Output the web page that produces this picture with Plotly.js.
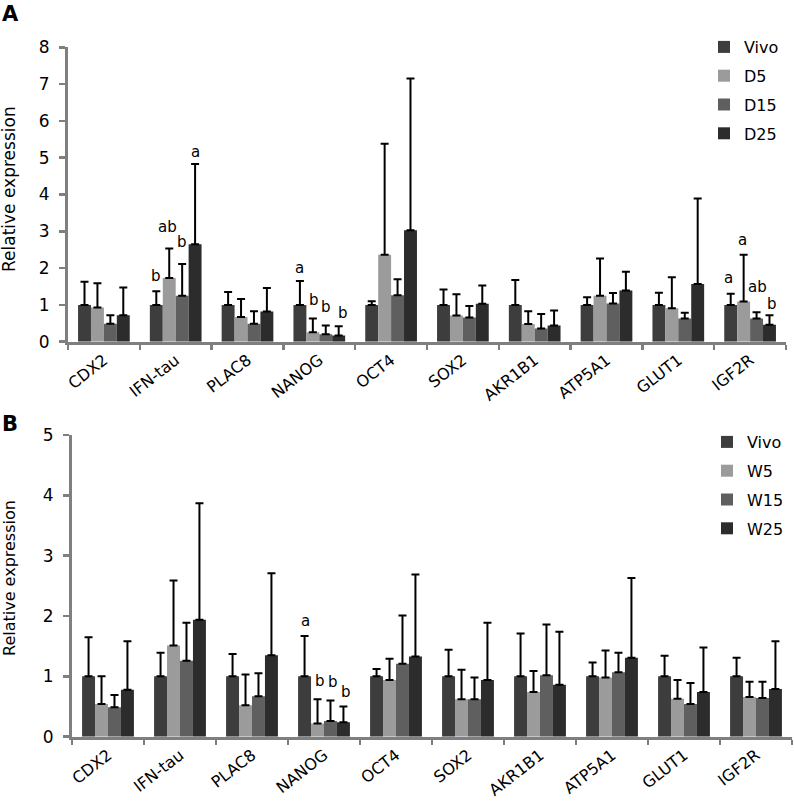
<!DOCTYPE html>
<html><head><meta charset="utf-8">
<script src="https://cdn.plot.ly/plotly-3.0.1.min.js"></script>
<style>html,body{margin:0;padding:0;background:#fff}</style>
</head><body><div id="chart" style="width:794px;height:809px"></div>
<script>
// ---- categories / series ----
const genes = ['CDX2','IFN-tau','PLAC8','NANOG','OCT4','SOX2','AKR1B1','ATP5A1','GLUT1','IGF2R'];
const seriesA = ['Vivo','D5','D15','D25'];
const seriesB = ['Vivo','W5','W15','W25'];
const yTicksA = [0,1,2,3,4,5,6,7,8];
const yTicksB = [0,1,2,3,4,5];
const yTitle = 'Relative expression';

// ---- Panel A: means ----
const vivoA = [1.00,1.00,1.00,1.00,1.00,1.00,1.00,1.00,1.00,1.00];
const d5A   = [0.93,1.73,0.67,0.26,2.36,0.71,0.48,1.25,0.91,1.09];
const d15A  = [0.49,1.25,0.49,0.20,1.26,0.66,0.36,1.04,0.63,0.63];
const d25A  = [0.72,2.65,0.82,0.17,3.03,1.03,0.44,1.39,1.57,0.46];
// ---- Panel A: upper error ----
const vivoErrA = [0.63,0.37,0.35,0.65,0.10,0.42,0.68,0.21,0.33,0.30];
const d5ErrA   = [0.66,0.80,0.49,0.37,3.02,0.58,0.35,1.01,0.84,1.27];
const d15ErrA  = [0.23,0.86,0.34,0.24,0.44,0.31,0.39,0.28,0.16,0.17];
const d25ErrA  = [0.75,2.18,0.64,0.25,4.12,0.50,0.41,0.51,2.32,0.26];

// ---- Panel B: means ----
const vivoB = [1.00,1.00,1.00,1.00,1.00,1.00,1.00,1.00,1.00,1.00];
const w5B   = [0.54,1.51,0.52,0.22,0.94,0.62,0.74,0.98,0.63,0.66];
const w15B  = [0.49,1.26,0.67,0.26,1.21,0.62,1.02,1.07,0.54,0.64];
const w25B  = [0.78,1.94,1.35,0.24,1.33,0.94,0.86,1.31,0.74,0.79];
// ---- Panel B: upper error ----
const vivoErrB = [0.65,0.39,0.37,0.67,0.12,0.44,0.71,0.23,0.34,0.31];
const w5ErrB   = [0.46,1.08,0.51,0.40,0.35,0.49,0.35,0.45,0.31,0.25];
const w15ErrB  = [0.20,0.63,0.38,0.34,0.80,0.36,0.84,0.32,0.35,0.27];
const w25ErrB  = [0.80,1.93,1.36,0.26,1.36,0.95,0.88,1.32,0.74,0.79];

// ---- significance letters ----
const lettersA_IFNtau = ['b','ab','b','a'];
const lettersA_NANOG  = ['a','b','b','b'];
const lettersA_IGF2R  = ['a','a','ab','b'];
const lettersB_NANOG  = ['a','b','b','b'];

// ---- styling ----
const FONT = 'DejaVu Sans, Arial, sans-serif';
const colors = ['#3d3d3d','#9b9b9b','#5f5f5f','#2c2c2c'];
const axisGray = '#7f7f7f';
const W = 794, H = 809;

const meansA = [vivoA, d5A, d15A, d25A];
const errsA = [vivoErrA, d5ErrA, d15ErrA, d25ErrA];
const meansB = [vivoB, w5B, w15B, w25B];
const errsB = [vivoErrB, w5ErrB, w15ErrB, w25ErrB];

const traces = [];
function addPanel(names, means, errs, xa, ya, legendId) {
  names.forEach((nm, i) => {
    traces.push({
      type: 'bar', name: nm, x: genes, y: means[i],
      xaxis: xa, yaxis: ya, legend: legendId, legendgroup: legendId + nm,
      marker: {color: colors[i], line: {width: 0}},
      error_y: {type: 'data', symmetric: false, array: errs[i],
                arrayminus: means[i].map(() => 0),
                color: '#000', thickness: 2, width: 4}
    });
  });
}
addPanel(seriesA, meansA, errsA, 'x', 'y', 'legend');
addPanel(seriesB, meansB, errsB, 'x2', 'y2', 'legend2');

const barW = 0.18;
const annotations = [];
function addLetters(letters, gene, means, errs, xref, yref, shifts, xshifts) {
  const gi = genes.indexOf(gene);
  letters.forEach((t, si) => {
    annotations.push({
      text: t, x: gi + (si - 1.5) * barW, y: means[si][gi] + errs[si][gi],
      xref: xref, yref: yref, showarrow: false, yanchor: 'middle', xanchor: 'center',
      yshift: shifts[si], xshift: xshifts ? xshifts[si] : 0,
      font: {family: FONT, size: 15, color: '#000'}
    });
  });
}
addLetters(lettersA_IFNtau, 'IFN-tau', meansA, errsA, 'x', 'y', [15, 22, 22, 12], [0, -2, 0, 0]);
addLetters(lettersA_NANOG, 'NANOG', meansA, errsA, 'x', 'y', [13, 19, 19, 13], [0, 1, 0, 4]);
addLetters(lettersA_IGF2R, 'IGF2R', meansA, errsA, 'x', 'y', [16, 15, 25, 11], [-2, -1, 1, 3]);
addLetters(lettersB_NANOG, 'NANOG', meansB, errsB, 'x2', 'y2', [15, 18, 19, 15], [1, 2, 3, 3]);

// panel letters
annotations.push({text: '<b>A</b>', x: 0, y: 1, xref: 'paper', yref: 'paper',
  xanchor: 'left', yanchor: 'top', xshift: 0, yshift: 0, showarrow: false,
  font: {family: FONT, size: 21, color: '#000'}});
annotations.push({text: '<b>B</b>', x: 0, y: 1 - 410 / H, xref: 'paper', yref: 'paper',
  xanchor: 'left', yanchor: 'top', xshift: 0, showarrow: false,
  font: {family: FONT, size: 21, color: '#000'}});
// y-axis titles
annotations.push({text: yTitle, x: 9 / W, y: 1 - 189 / H, xref: 'paper', yref: 'paper',
  xanchor: 'center', yanchor: 'middle', textangle: -90, showarrow: false,
  font: {family: FONT, size: 17, color: '#000'}});
annotations.push({text: yTitle, x: 9 / W, y: 1 - 578 / H, xref: 'paper', yref: 'paper',
  xanchor: 'center', yanchor: 'middle', textangle: -90, showarrow: false,
  font: {family: FONT, size: 16, color: '#000'}});

function xAxis(d0, d1, anchor) {
  return {domain: [d0 / W, d1 / W], anchor: anchor, type: 'category',
    range: [-0.5, 9.5], tickson: 'boundaries', ticks: 'outside', ticklen: 5,
    tickwidth: 2.5, tickcolor: axisGray, showline: true, linecolor: axisGray,
    linewidth: 3, tickangle: -38, showgrid: false, zeroline: false,
    tickfont: {family: FONT, size: 16, color: '#000'}};
}
function yAxis(top, bottom, anchor, maxV, tv) {
  return {domain: [1 - bottom / H, 1 - top / H], anchor: anchor, range: [0, maxV],
    tickmode: 'array', tickvals: tv, ticktext: tv.map(String),
    ticks: 'outside', ticklen: 6, tickwidth: 2.5, tickcolor: axisGray,
    showline: true, linecolor: axisGray, linewidth: 3, showgrid: false, zeroline: false,
    ticklabelstandoff: 6,
    tickfont: {family: FONT, size: 17, color: '#000'}};
}

const layout = {
  width: W, height: H, margin: {l: 0, r: 0, t: 0, b: 0},
  paper_bgcolor: '#fff', plot_bgcolor: '#fff',
  font: {family: FONT, color: '#000'},
  barmode: 'group', bargap: 0.28, bargroupgap: 0,
  xaxis: xAxis(68, 786, 'y'),
  yaxis: yAxis(47.3, 341.7, 'x', 8, yTicksA),
  xaxis2: xAxis(72, 792, 'y2'),
  yaxis2: yAxis(435, 736.7, 'x2', 5, yTicksB),
  legend: {x: 704 / W, y: 1 - 30 / H, xanchor: 'left', yanchor: 'top',
    font: {family: FONT, size: 16, color: '#000'}, tracegroupgap: 5,
    bgcolor: 'rgba(0,0,0,0)', itemclick: false},
  legend2: {x: 707 / W, y: 1 - 425 / H, xanchor: 'left', yanchor: 'top',
    font: {family: FONT, size: 16, color: '#000'}, tracegroupgap: 5,
    bgcolor: 'rgba(0,0,0,0)', itemclick: false},
  showlegend: true,
  annotations: annotations
};

Plotly.newPlot('chart', traces, layout, {staticPlot: true, displayModeBar: false});
</script>
</body></html>
